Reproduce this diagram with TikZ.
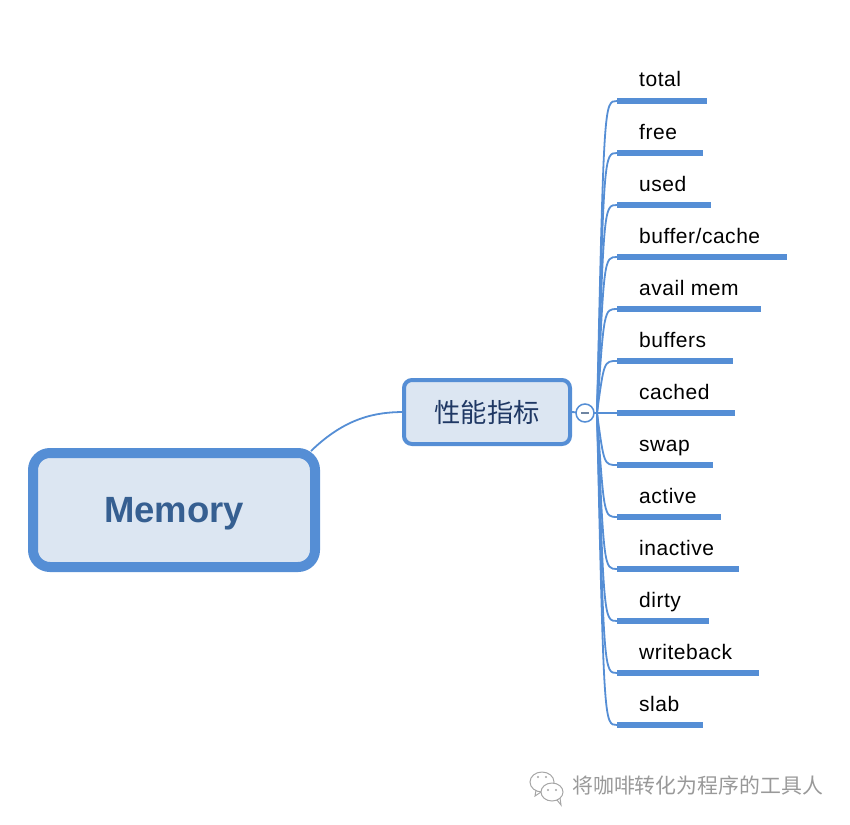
\documentclass[tikz,border=0pt]{standalone}
\usepackage{fontspec}
\setmainfont{Liberation Sans}
\newfontfamily\cjk{Noto Sans CJK SC}
\newfontfamily\leaffont[LetterSpace=2.5]{Liberation Sans}
\definecolor{mapblue}{HTML}{558ED5}
\definecolor{mapfill}{HTML}{DCE6F2}
\definecolor{roottext}{HTML}{365F91}
\definecolor{childtext}{HTML}{1F3864}
\tikzset{
  rootnode/.style  = {draw=mapblue,fill=mapfill,line width=10pt,rounded corners=17pt,
                      minimum width=282pt,minimum height=114pt,inner sep=0pt,outer sep=0pt,
                      text=roottext,text depth=0pt,font=\fontsize{36.5}{40}\selectfont\bfseries},
  childnode/.style = {draw=mapblue,fill=mapfill,line width=4pt,rounded corners=8pt,
                      minimum width=166pt,minimum height=64pt,inner sep=0pt,outer sep=0pt,
                      text=childtext,font=\fontsize{26.3}{30}\selectfont\cjk},
  foldnode/.style  = {circle,draw=mapblue,fill=white,line width=1.5pt,minimum size=18pt,
                      inner sep=0pt,outer sep=0pt},
  leaftext/.style  = {anchor=base west,inner sep=0pt,font=\fontsize{21}{24}\leaffont},
  branch/.style    = {mapblue,line width=1.8pt},
  leafbar/.style   = {mapblue,line width=5.5pt},
  wmark/.style     = {gray!70,line width=1pt}
}
\begin{document}
\begin{tikzpicture}[x=1pt,y=-1pt]
  \useasboundingbox (0,0) rectangle (850,824);
  \node[rootnode]  (root)  at (174,510) {Memory};
  \node[childnode] (perf)  at (487,412) {性能指标};
  \coordinate (rootout) at (311,451);
  \coordinate (hub)     at (597,413);
  \draw[branch] (rootout) .. controls (345,418) and (375,412) .. (perf.west);
  \draw[branch] (perf.east) -- (hub);
  \foreach \ltext/\lend [count=\i, evaluate=\i as \ly using int(49+52*\i)] in
    {total/707,free/703,used/711,{buffer/cache}/787,avail mem/761,buffers/733,cached/735,
     swap/713,active/721,inactive/739,dirty/709,writeback/759,slab/703}{
    \coordinate (bar\i)    at (617,\ly);
    \coordinate (barend\i) at (\lend,\ly);
    \node[leaftext] (leaf\i) at (639,\ly-14) {\ltext};
    \draw[branch]  (hub) .. controls (604,\ly) .. (bar\i);
    \draw[leafbar] (bar\i) -- (barend\i);
  }
  \node[foldnode] (fold) at (585,413) {};
  \draw[gray!60!mapblue,line width=1.6pt] ([xshift=-4pt]fold.center) -- ([xshift=4pt]fold.center);
  % watermark
  \draw[wmark,fill=white] (542,782) ellipse (12 and 10);
  \draw[wmark] (536,790) -- (535,796) -- (541,792);
  \draw[wmark,fill=white] (552,792) ellipse (11 and 9);
  \draw[wmark] (557,800) -- (561,805) -- (560,798);
  \fill[gray!70] (538,777) circle (1.2) (546,777) circle (1.2) (548,790) circle (1.2) (556,790) circle (1.2);
  \node[anchor=west,inner sep=0pt,text=gray!80,font=\fontsize{20.9}{24}\selectfont\cjk] (wtext) at (572,786) {将咖啡转化为程序的工具人};
\end{tikzpicture}
\end{document}
